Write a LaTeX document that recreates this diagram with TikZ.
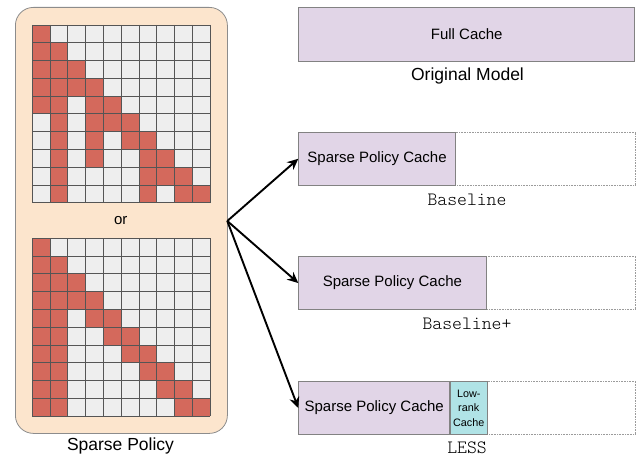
\documentclass[tikz,border=0pt]{standalone}
\usepackage{fontspec}
\setmainfont{Liberation Sans}
\setmonofont{Latin Modern Mono Light}
\usetikzlibrary{arrows.meta}

\definecolor{panel}{HTML}{FCE5CD}
\definecolor{panelline}{HTML}{8C8C8C}
\definecolor{hot}{HTML}{D4695C}
\definecolor{cold}{HTML}{EEEEEE}
\definecolor{cellline}{HTML}{555555}
\definecolor{cachefill}{HTML}{E1D5E7}
\definecolor{lowrank}{HTML}{B0E3E6}
\definecolor{boxline}{HTML}{828282}

\tikzset{
  panelbox/.style={draw=panelline, line width=0.8pt, fill=panel, rounded corners=18pt,
    inner sep=0pt, anchor=north west},
  cachebox/.style={draw=boxline, line width=0.8pt, fill=cachefill, inner sep=0pt,
    anchor=north west, font=\fontsize{15}{18}\selectfont},
  lowrankbox/.style={draw=boxline, line width=0.8pt, fill=lowrank, inner sep=0pt,
    anchor=north west, align=center, font=\fontsize{10.8}{14.5}\selectfont},
  slotbox/.style={draw=boxline!80, densely dotted, line width=0.6pt, inner sep=0pt,
    anchor=north west},
  caption/.style={font=\fontsize{17.5}{20}\selectfont},
  monocap/.style={font=\ttfamily\fontsize{18.8}{22}\selectfont, inner sep=0.5pt},
  gridline/.style={draw=cellline, line width=0.7pt},
  flow/.style={line width=1.9pt, -{Stealth[length=11pt,width=10pt]}},
}

\begin{document}
\begin{tikzpicture}[x=1pt,y=-1pt]
\useasboundingbox (0,0) rectangle (637,457);

% ---- sparse attention policies panel ----
\node[panelbox, minimum width=212pt, minimum height=426pt] (policy) at (15,7) {};

% top mask
\begin{scope}[shift={(32.3,25)}]
  \fill[cold] (0,0) rectangle (177.7,177.7);
  \foreach \r/\cols in {0/{0},1/{0,1},2/{0,1,2},3/{0,1,2,3},4/{0,1,3,4},
                        5/{1,3,4,5},6/{1,3,5,6},7/{1,3,6,7},8/{1,6,7,8},9/{1,6,8,9}}
    \foreach \c in \cols
      \fill[hot] (\c*17.77,\r*17.77) rectangle ++(17.77,17.77);
  \foreach \i in {0,...,10} {
    \draw[gridline] (\i*17.77,0) -- (\i*17.77,177.7);
    \draw[gridline] (0,\i*17.77) -- (177.7,\i*17.77);
  }
\end{scope}

% bottom mask
\begin{scope}[shift={(32.3,238.3)}]
  \fill[cold] (0,0) rectangle (177.7,177.7);
  \foreach \r/\cols in {0/{0},1/{0,1},2/{0,1,2},3/{0,1,2,3},4/{0,1,3,4},
                        5/{0,1,4,5},6/{0,1,5,6},7/{0,1,6,7},8/{0,1,7,8},9/{0,1,8,9}}
    \foreach \c in \cols
      \fill[hot] (\c*17.77,\r*17.77) rectangle ++(17.77,17.77);
  \foreach \i in {0,...,10} {
    \draw[gridline] (\i*17.77,0) -- (\i*17.77,177.7);
    \draw[gridline] (0,\i*17.77) -- (177.7,\i*17.77);
  }
\end{scope}

\node[font=\fontsize{15}{18}\selectfont] (or) at (120.7,220.5) {or};
\node[caption] (policylabel) at (120.5,445.5) {Sparse Policy};

% ---- cache layouts ----
\node[cachebox, minimum width=336pt, minimum height=53.3pt] (full) at (298.3,7.4) {Full Cache};
\node[caption] (origlabel) at (467.5,75.5) {Original Model};

% baseline
\node[slotbox, minimum width=337pt, minimum height=53.3pt] (slot1) at (298.3,131.7) {};
\node[cachebox, minimum width=156.7pt, minimum height=53.3pt] (base) at (298.3,131.7) {Sparse Policy Cache};
\node[monocap] (baselabel) at (467,199.5) {Baseline};

% baseline+
\node[slotbox, minimum width=337pt, minimum height=53.3pt] (slot2) at (298.3,256) {};
\node[cachebox, minimum width=187.4pt, minimum height=53.3pt] (baseplus) at (298.3,256) {Sparse Policy Cache};
\node[monocap] (baspluslabel) at (467,324) {Baseline+};

% LESS
\node[slotbox, minimum width=337pt, minimum height=53.3pt] (slot3) at (298.3,381) {};
\node[cachebox, minimum width=151pt, minimum height=53.3pt] (less) at (298.3,381) {Sparse Policy Cache};
\node[lowrankbox, minimum width=36.4pt, minimum height=53.3pt] (lr) at (less.north east) {Low-\\rank\\Cache};
\node[monocap] (lesslabel) at (467,447.8) {LESS};

% ---- connectors ----
\coordinate (fork) at (227.3,221);
\draw[flow] (fork) -- (base.west);
\draw[flow] (fork) -- (baseplus.west);
\draw[flow] (fork) -- (less.west);
\end{tikzpicture}
\end{document}
